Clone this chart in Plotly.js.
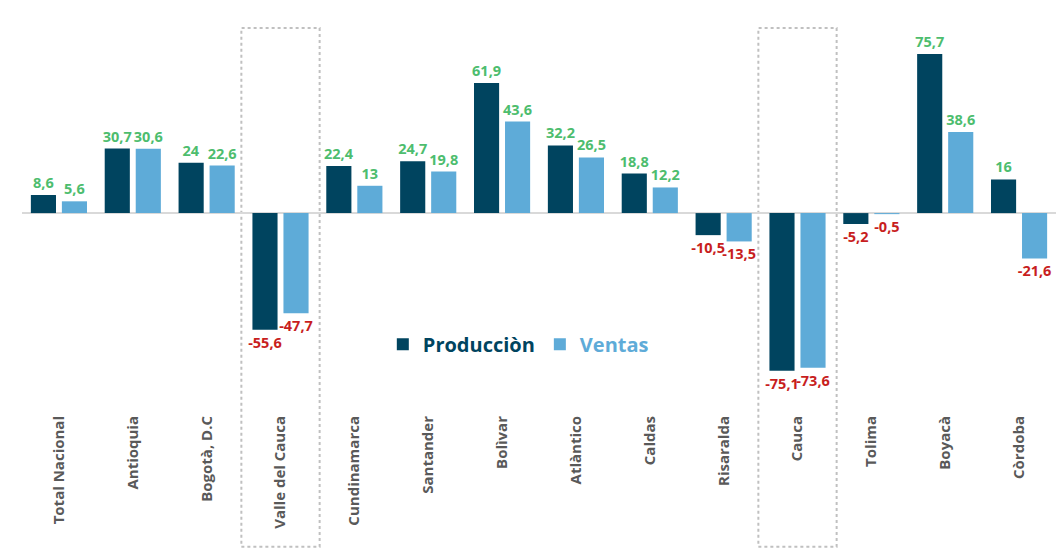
<!DOCTYPE html>
<html>
<head>
<meta charset="utf-8">
<script src="https://cdn.plot.ly/plotly-3.0.1.min.js"></script>
<style>html,body{margin:0;padding:0;background:#fff;}#chart{width:1056px;height:550px;}</style>
</head>
<body>
<div id="chart"></div>
<script>
const categories = ["Total Nacional","Antioquia","Bogotà, D.C","Valle del Cauca","Cundinamarca","Santander","Bolìvar","Atlàntico","Caldas","Risaralda","Cauca","Tolima","Boyacà","Còrdoba"];
const produccion = [8.6, 30.7, 24, -55.6, 22.4, 24.7, 61.9, 32.2, 18.8, -10.5, -75.1, -5.2, 75.7, 16];
const ventas = [5.6, 30.6, 22.6, -47.7, 13, 19.8, 43.6, 26.5, 12.2, -13.5, -73.6, -0.5, 38.6, -21.6];
const highlighted = ["Valle del Cauca", "Cauca"];

const darkColor = "#00445f";
const lightColor = "#5eabd8";
const posColor = "#4dbd6e";
const negColor = "#c81e1e";

function fmt(v){ return String(v).replace('.', ','); }
function labColors(arr){ return arr.map(v => v >= 0 ? posColor : negColor); }

const font = "Open Sans, sans-serif";

const traces = [
  {
    type: "bar", x: categories, y: produccion,
    name: '<span style="color:' + darkColor + '">Producciòn</span>',
    marker: {color: darkColor, line: {color: "#ffffff", width: 0}},
    text: produccion.map(fmt), textposition: "outside", cliponaxis: false,
    textfont: {family: font, size: 14.5, color: labColors(produccion), weight: "bold"},
    constraintext: "none", hoverinfo: "skip"
  },
  {
    type: "bar", x: categories, y: ventas,
    name: '<span style="color:' + lightColor + '">Ventas</span>',
    marker: {color: lightColor, line: {color: "#ffffff", width: 0}},
    text: ventas.map(fmt), textposition: "outside", cliponaxis: false,
    textfont: {family: font, size: 14.5, color: labColors(ventas), weight: "bold"},
    constraintext: "none", hoverinfo: "skip"
  }
];

const shapes = highlighted.map(c => {
  const i = categories.indexOf(c);
  return {
    type: "rect", xref: "x", yref: "paper",
    x0: i - 0.53, x1: i + 0.53, y0: -0.376, y1: 0.954,
    line: {color: "#c0c0c0", width: 2, dash: "dot"}, fillcolor: "rgba(0,0,0,0)", layer: "below"
  };
});

const layout = {
  width: 1056, height: 550,
  margin: {l: 22, r: 0, t: 10, b: 150},
  paper_bgcolor: "#ffffff", plot_bgcolor: "#ffffff",
  barmode: "group", bargap: 0.16, bargroupgap: 0.19,
  font: {family: font},
  xaxis: {
    type: "category", tickangle: -90, showgrid: false, showline: false, zeroline: false,
    ticks: "", tickfont: {family: font, size: 15, color: "#595959", weight: "bold"},
    ticklabelstandoff: 12, automargin: false
  },
  yaxis: {
    range: [-89, 96.7], showgrid: false, showticklabels: false, ticks: "",
    zeroline: true, zerolinecolor: "#d9d9d9", zerolinewidth: 1.5, showline: false
  },
  showlegend: true,
  legend: {
    orientation: "h", x: 0.48, xanchor: "center", y: 0.143, yanchor: "middle",
    font: {family: font, size: 20, weight: "bold"}, bgcolor: "rgba(0,0,0,0)",
    itemwidth: 30
  },
  shapes: shapes
};

Plotly.newPlot("chart", traces, layout, {displayModeBar: false, staticPlot: true});
</script>
</body>
</html>
